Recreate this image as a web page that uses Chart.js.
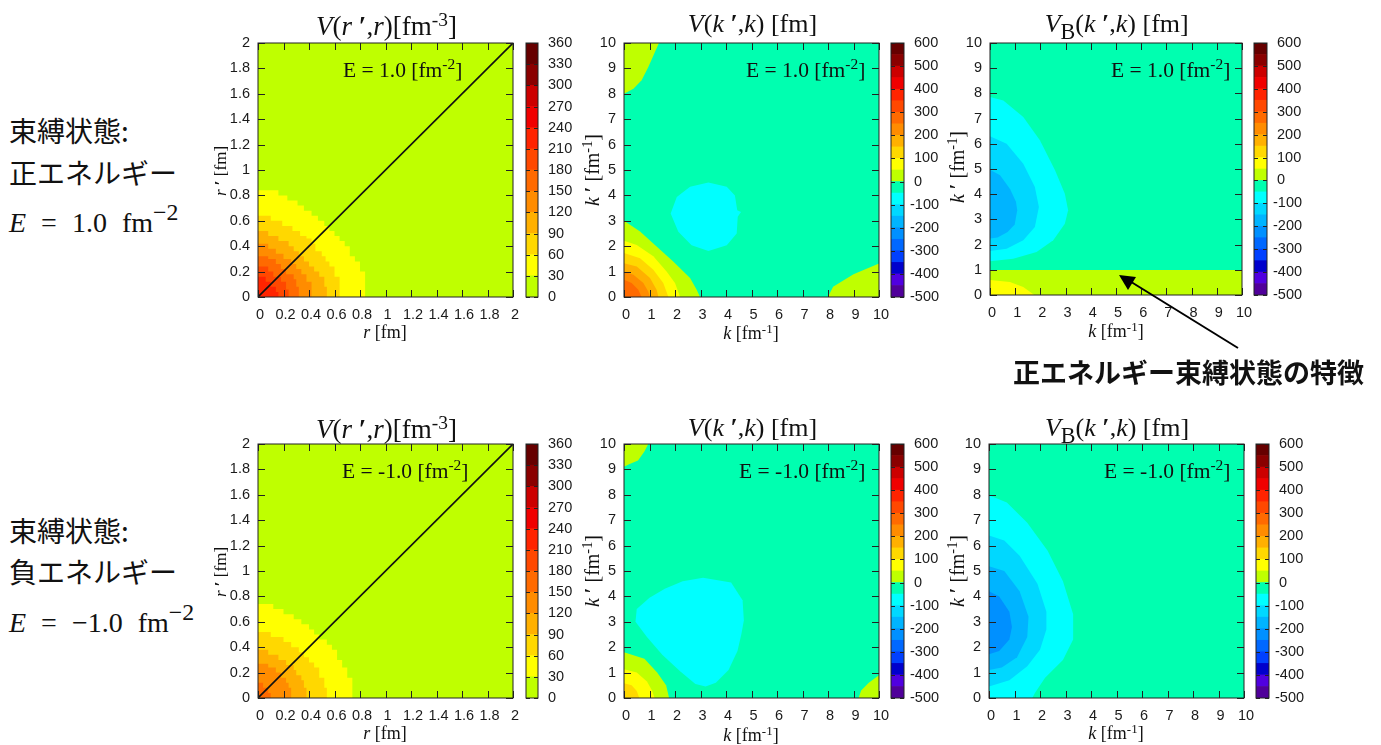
<!DOCTYPE html>
<html>
<head>
<meta charset="utf-8">
<title>V(k',k)</title>
<script src="https://cdn.jsdelivr.net/npm/chart.js@4"></script>
<style>
  html, body { margin: 0; padding: 0; background: #fff; }
  body { width: 1381px; height: 745px; position: relative; overflow: hidden; }
  canvas { position: absolute; }
  .t { position: absolute; white-space: nowrap; color: #111; font-family: "Liberation Serif", serif; line-height: 1; }
  .t sup { font-size: .72em; line-height: 0; vertical-align: baseline; position: relative; top: -.48em; }
  .t sub { font-size: .85em; line-height: 0; vertical-align: baseline; position: relative; top: .3em; }
  .jp { font-family: "Noto Sans CJK JP", sans-serif; color: #111; }
  .en { word-spacing: 8px; }
  .en sup { font-size: .85em; }
  svg { position: absolute; left: 0; top: 0; z-index: 5; }
</style>
</head>
<body>
<svg width="1381" height="745">
  <line x1="1238" y1="348" x2="1128" y2="280" stroke="#000" stroke-width="2"></line>
  <polygon points="1119,275 1136,277 1128,290" fill="#000"></polygon>
</svg>
<script>
// tick labels
const rTicks = [0, 0.2, 0.4, 0.6, 0.8, 1, 1.2, 1.4, 1.6, 1.8, 2];
const kTicks = [0, 1, 2, 3, 4, 5, 6, 7, 8, 9, 10];
const rBarTicks = [0, 30, 60, 90, 120, 150, 180, 210, 240, 270, 300, 330, 360];
const kBarTicks = [-500, -400, -300, -200, -100, 0, 100, 200, 300, 400, 500, 600];

// colour bands, lower edge of each one
const rBandLows = [0, 30, 60, 90, 120, 150, 180, 210, 240, 270, 300, 330];
const rBandColors = ["#bfff00", "#ffff00", "#ffd800", "#ffb000", "#ff8c00", "#ff6a00", "#ff4800", "#ff2400", "#f00000", "#cc0000", "#8a0000", "#660000"];
const kBandLows = [-500, -450, -400, -350, -300, -250, -200, -150, -100, -50, 0, 50, 100, 150, 200, 250, 300, 350, 400, 450, 500, 550];
const kBandColors = ["#50009a", "#5000e0", "#0000cc", "#0040ff", "#0068ff", "#0090ff", "#00b4ff", "#00d8ff", "#00ffff", "#00ffb0",
  "#bfff00", "#ffff00", "#ffd800", "#ffb000", "#ff8c00", "#ff6a00", "#ff4800", "#ff2400", "#f00000", "#cc0000", "#8a0000", "#660000"];

// contours, [x, y] in axis units
const rFull = [[0, 0], [2, 0], [2, 2], [0, 2]];
const kFull = [[0, 0], [10, 0], [10, 10], [0, 10]];
const diagonal = [[0, 0], [2, 2]];

// V(r',r), E = 1.0
const a30 = [[0, .84], [.16, .80], [.23, .76], [.31, .72], [.36, .68], [.42, .64], [.47, .60], [.52, .56], [.56, .52], [.60, .48], [.64, .44], [.68, .40], [.72, .32], [.76, .28], [.80, .20], [.84, 0], [0, 0]];
const a60 = [[0, .64], [.10, .60], [.19, .56], [.27, .52], [.33, .48], [.38, .46], [.42, .42], [.45, .36], [.50, .32], [.53, .28], [.56, .24], [.60, .16], [.64, 0], [0, 0]];
const a90 = [[0, .52], [.08, .48], [.16, .44], [.24, .40], [.28, .36], [.32, .32], [.36, .28], [.40, .24], [.44, .20], [.48, .16], [.52, .08], [.54, 0], [0, 0]];
const a120 = [[0, .42], [.08, .38], [.14, .34], [.20, .30], [.26, .26], [.30, .22], [.34, .18], [.38, .12], [.42, 0], [0, 0]];
const a150 = [[0, .32], [.08, .30], [.14, .26], [.18, .22], [.22, .18], [.28, .14], [.30, .08], [.32, 0], [0, 0]];
const a180 = [[0, .24], [.08, .20], [.12, .16], [.18, .12], [.22, .06], [.24, 0], [0, 0]];
const a210 = [[0, .16], [.06, .12], [.10, .08], [.14, .04], [.16, 0], [0, 0]];

// V(k',k), E = 1.0
const b0Low = [[0, 3.0], [.63, 2.58], [1.28, 1.99], [1.93, 1.4], [2.59, .75], [2.85, .29], [2.98, 0], [0, 0]];
const b0Top = [[0, 8.0], [.37, 8.2], [.69, 8.53], [.95, 9.05], [1.37, 10], [0, 10]];
const b0Right = [[8, 0], [8.2, .4], [9, .9], [10, 1.32], [10, 0]];
const b50 = [[0, 2.21], [.5, 2.05], [1.15, 1.6], [1.67, 1.0], [2, .55], [2.2, 0], [0, 0]];
const b100 = [[0, 1.73], [.63, 1.53], [1.15, 1.07], [1.54, .55], [1.74, 0], [0, 0]];
const b150 = [[0, 1.33], [.5, 1.2], [1.02, .75], [1.28, .29], [1.35, 0], [0, 0]];
const b200 = [[0, 1.0], [.37, .88], [.76, .55], [.95, .22], [1.02, 0], [0, 0]];
const b250 = [[0, .68], [.3, .55], [.56, .29], [.69, 0], [0, 0]];
const bBlob = [[3.31, 4.51], [4.03, 4.34], [4.35, 4.0], [4.44, 3.42], [4.59, 3.35], [4.46, 3.16], [4.42, 2.5], [4.03, 2.04], [3.31, 1.81], [2.65, 2.04], [2.13, 2.57], [1.83, 3.29], [2.07, 3.94], [2.59, 4.34]];

// VB(k',k), E = 1.0
const cBand = [[0, 0], [10, 0], [10, .99], [0, .99]];
const cYellow = [[0, .6], [.79, .52], [1.32, .32], [1.76, 0], [0, 0]];
const cM100 = [[0, 7.86], [.53, 7.72], [1.32, 7.06], [1.98, 6.14], [2.58, 4.95], [2.97, 4.02], [3.1, 3.36], [2.97, 2.83], [2.51, 2.17], [1.85, 1.71], [.92, 1.44], [0, 1.34]];
const cM150 = [[0, 6.3], [.66, 6.0], [1.32, 5.21], [1.78, 4.29], [1.94, 3.49], [1.78, 2.7], [1.32, 2.17], [.66, 1.84], [0, 1.75]];
const cM200 = [[0, 4.97], [.4, 4.75], [.8, 4.2], [1.03, 3.7], [1.08, 3.36], [.98, 2.8], [.7, 2.5], [.3, 2.28], [0, 2.24]];

// V(r',r), E = -1.0
const d30 = [[0, .74], [.12, .70], [.20, .66], [.28, .62], [.34, .58], [.40, .54], [.44, .50], [.48, .46], [.54, .42], [.58, .38], [.62, .30], [.66, .24], [.70, .16], [.74, 0], [0, 0]];
const d60 = [[0, .52], [.10, .48], [.20, .44], [.26, .40], [.32, .36], [.36, .32], [.40, .28], [.44, .24], [.48, .16], [.52, .08], [.54, 0], [0, 0]];
const d90 = [[0, .38], [.08, .34], [.16, .30], [.22, .26], [.28, .22], [.30, .18], [.34, .14], [.36, .08], [.38, 0], [0, 0]];
const d120 = [[0, .27], [.08, .24], [.14, .20], [.18, .16], [.22, .12], [.24, .08], [.26, 0], [0, 0]];
const d150 = [[0, .12], [.04, .08], [.08, .04], [.10, 0], [0, 0]];

// V(k',k), E = -1.0
const e0Low = [[0, 1.8], [.8, 1.55], [1.3, 1.0], [1.65, .5], [1.77, 0], [0, 0]];
const e0Top = [[0, 9.1], [.2, 9.2], [.55, 9.35], [.8, 9.7], [.95, 10], [0, 10]];
const e0Right = [[9.2, 0], [9.3, .3], [9.6, .6], [10, .9], [10, 0]];
const e50 = [[0, 1.13], [.5, 1.0], [.9, .65], [1.1, .3], [1.2, 0], [0, 0]];
const e100 = [[0, .58], [.3, .5], [.5, .28], [.6, 0], [0, 0]];
const eBlob = [[3.1, 4.73], [4.2, 4.55], [4.65, 3.85], [4.7, 3.05], [4.6, 2.5], [4.45, 1.85], [4.1, 1.1], [3.6, .6], [3.2, .45], [2.8, .55], [2.2, 1.05], [1.5, 1.7], [.9, 2.4], [.45, 3.0], [.5, 3.5], [1.0, 3.95], [1.6, 4.3], [2.3, 4.6]];

// VB(k',k), E = -1.0
const fM100 = [[0, 7.98], [.7, 7.7], [1.5, 6.9], [2.3, 5.8], [2.9, 4.6], [3.3, 3.3], [3.3, 2.3], [2.9, 1.5], [2.2, .8], [1.8, .2], [1.7, 0], [0, 0]];
const fM150 = [[0, 6.4], [.6, 6.2], [1.2, 5.6], [1.9, 4.5], [2.25, 3.4], [2.25, 2.7], [2.0, 1.9], [1.5, 1.25], [.8, .7], [0, .45]];
const fM200 = [[0, 5.19], [.6, 5.0], [1.2, 4.2], [1.55, 3.2], [1.5, 2.4], [1.1, 1.6], [.5, 1.2], [0, 1.1]];
const fM250 = [[0, 4.2], [.4, 4.0], [.8, 3.4], [.9, 2.8], [.8, 2.3], [.4, 1.85], [0, 1.72]];

const tickFont = { family: "Liberation Sans", size: 14.5 };
const inkColor = "#1a1a1a";

// ticks point inwards on all sides, gnuplot style
const frameTicks = {
  id: "frameTicks",
  afterDatasetsDraw(chart, args, opts) {
    const { ctx, chartArea: a, scales } = chart;
    const snap = v => Math.round(v) + 0.5;
    ctx.save();
    ctx.strokeStyle = "#222";
    ctx.lineWidth = 1;
    ctx.beginPath();
    if (opts.xLen) {
      scales.x.ticks.forEach(t => {
        const px = snap(scales.x.getPixelForValue(t.value));
        ctx.moveTo(px, a.bottom); ctx.lineTo(px, a.bottom - opts.xLen);
        ctx.moveTo(px, a.top); ctx.lineTo(px, a.top + opts.xLen);
      });
    }
    scales.y.ticks.forEach(t => {
      const py = snap(scales.y.getPixelForValue(t.value));
      ctx.moveTo(a.left, py); ctx.lineTo(a.left + opts.yLen, py);
      ctx.moveTo(a.right, py); ctx.lineTo(a.right - opts.yLen, py);
    });
    ctx.stroke();
    ctx.strokeRect(a.left, a.top, a.right - a.left, a.bottom - a.top);
    ctx.restore();
  }
};

function place(box) {
  const c = document.createElement("canvas");
  c.width = box.w; c.height = box.h;
  c.style.left = box.x + "px";
  c.style.top = box.y + "px";
  document.body.appendChild(c);
  return c;
}

function axis(lo, hi, values, extra) {
  return Object.assign({
    type: "linear", min: lo, max: hi,
    afterBuildTicks: s => { s.ticks = values.map(v => ({ value: v })); },
    grid: { display: false, drawTicks: false },
    border: { display: false }
  }, extra);
}

// one contour panel: regions are [lower band edge, vertices, stepped]
function panel(l, t, r, b, hi, xValues, yValues, lows, colors, regions, line) {
  const cv = place({ x: l - 50, y: t - 24, w: r - l + 74, h: b - t + 54 });
  const n = regions.length;
  const datasets = regions.map((reg, i) => ({
    data: reg[1].map(p => ({ x: p[0], y: p[1] })),
    showLine: true,
    fill: "shape",
    stepped: !!reg[2],
    tension: 0,
    pointRadius: 0,
    borderWidth: 0,
    backgroundColor: colors[lows.indexOf(reg[0])],
    order: n - i + 1
  }));
  if (line) {
    datasets.push({
      data: line.map(p => ({ x: p[0], y: p[1] })),
      showLine: true, fill: false, pointRadius: 0,
      borderColor: "#111", borderWidth: 1.6, order: 0
    });
  }
  const label = v => String(v);
  new Chart(cv, {
    type: "scatter",
    data: { datasets },
    plugins: [frameTicks],
    options: {
      responsive: false,
      animation: false,
      layout: { padding: { top: 24, right: 24 } },
      plugins: { legend: { display: false }, tooltip: { enabled: false }, frameTicks: { xLen: 7, yLen: 7 } },
      scales: {
        x: axis(0, hi, xValues, {
          ticks: { font: tickFont, color: inkColor, padding: 9, labelOffset: 2, maxRotation: 0, autoSkip: false, callback: label },
          afterFit: s => { s.height = 30; }
        }),
        y: axis(0, hi, yValues, {
          ticks: { font: tickFont, color: inkColor, padding: 8, autoSkip: false, callback: label },
          afterFit: s => { s.width = 50; }
        })
      }
    }
  });
}

function colorBar(l, r, t, b, lows, colors, step, values, pad) {
  const cv = place({ x: l - 5, y: t - 24, w: r - l + 5 + 50, h: b - t + 44 });
  new Chart(cv, {
    type: "bar",
    data: {
      labels: [""],
      datasets: lows.map((lo, i) => ({
        data: [[lo, lo + step]],
        backgroundColor: colors[i],
        barPercentage: 1,
        categoryPercentage: 1
      }))
    },
    plugins: [frameTicks],
    options: {
      responsive: false,
      animation: false,
      layout: { padding: { top: 24, bottom: 20, left: 5 } },
      plugins: { legend: { display: false }, tooltip: { enabled: false }, frameTicks: { yLen: 4 } },
      scales: {
        x: { stacked: true, display: false },
        y: axis(lows[0], lows[lows.length - 1] + step, values, {
          position: "right",
          ticks: {
            font: tickFont, color: inkColor, padding: pad, autoSkip: false,
            // gnuplot leaves room for the sign, so the minus hangs out to the left
            callback: v => (values[0] < 0 && v >= 0 ? " " : "") + v
          },
          afterFit: s => { s.width = 50; }
        })
      }
    }
  });
}

panel(258, 43, 513, 297, 2, rTicks, rTicks, rBandLows, rBandColors,
  [[0, rFull], [30, a30, true], [60, a60, true], [90, a90, true], [120, a120, true], [150, a150, true], [180, a180, true], [210, a210, true]], diagonal);
panel(624, 43, 879, 297, 10, kTicks, kTicks, kBandLows, kBandColors,
  [[-50, kFull], [0, b0Low], [0, b0Top], [0, b0Right], [-100, bBlob], [50, b50], [100, b100], [150, b150], [200, b200], [250, b250]]);
panel(990, 43, 1242, 295, 10, kTicks, kTicks, kBandLows, kBandColors,
  [[-50, kFull], [0, cBand], [50, cYellow], [-100, cM100], [-150, cM150], [-200, cM200]]);
panel(258, 444, 513, 698, 2, rTicks, rTicks, rBandLows, rBandColors,
  [[0, rFull], [30, d30, true], [60, d60, true], [90, d90, true], [120, d120, true], [150, d150, true]], diagonal);
panel(624, 444, 879, 698, 10, kTicks, kTicks, kBandLows, kBandColors,
  [[-50, kFull], [0, e0Low], [0, e0Top], [0, e0Right], [-100, eBlob], [50, e50], [100, e100]]);
panel(989, 444, 1244, 698, 10, kTicks, kTicks, kBandLows, kBandColors,
  [[-50, kFull], [-100, fM100], [-150, fM150], [-200, fM200], [-250, fM250]]);

colorBar(526, 538, 43, 297, rBandLows, rBandColors, 30, rBarTicks, 10);
colorBar(891, 904, 43, 297, kBandLows, kBandColors, 50, kBarTicks, 6);
colorBar(1254, 1267, 43, 295, kBandLows, kBandColors, 50, kBarTicks, 6);
colorBar(526, 538, 444, 698, rBandLows, rBandColors, 30, rBarTicks, 10);
colorBar(891, 904, 444, 698, kBandLows, kBandColors, 50, kBarTicks, 6);
colorBar(1256, 1269, 444, 698, kBandLows, kBandColors, 50, kBarTicks, 6);

// text, x is the centre (or left edge with left=true), y is the baseline
function text(html, x, y, size, opt) {
  opt = opt || {};
  const d = document.createElement("div");
  d.className = "t" + (opt.jp ? " jp" : "") + (opt.en ? " en" : "");
  d.innerHTML = html;
  d.style.fontSize = size + "px";
  if (opt.weight) d.style.fontWeight = opt.weight;
  d.style.left = x + "px";
  d.style.top = (opt.rot ? y : y - 0.3375 * size) + "px";
  d.style.transform = opt.rot ? "translate(-50%,-50%) rotate(-90deg)" : (opt.left ? "translateY(-50%)" : "translate(-50%,-50%)");
  document.body.appendChild(d);
}

const titleR = "<i>V</i>(<i>r</i> <b>′</b>,<i>r</i>)[fm<sup>-3</sup>]";
const titleK = "<i>V</i>(<i>k</i> <b>′</b>,<i>k</i>) [fm]";
const titleB = "<i>V</i><sub>B</sub>(<i>k</i> <b>′</b>,<i>k</i>) [fm]";
text(titleR, 386.5, 35, 27); text(titleK, 752.5, 33, 26); text(titleB, 1116.7, 33, 26);
text(titleR, 386.5, 438, 27); text(titleK, 752.5, 437, 26); text(titleB, 1117, 437, 26);

const ePlus = "E = 1.0 [fm<sup>-2</sup>]";
const eMinus = "E = -1.0 [fm<sup>-2</sup>]";
text(ePlus, 343, 78, 21.5, { left: true }); text(ePlus, 746, 78, 21.5, { left: true }); text(ePlus, 1111, 78, 21.5, { left: true });
text(eMinus, 342, 479, 21.5, { left: true }); text(eMinus, 739, 479, 21.5, { left: true }); text(eMinus, 1104, 479, 21.5, { left: true });

const xR = "<i>r</i> [fm]", xK = "<i>k</i> [fm<sup>-1</sup>]";
const yR = "<i>r</i> <b>′</b> [fm]", yK = "<i>k</i> <b>′</b> [fm<sup>-1</sup>]";
text(xR, 385, 338, 18); text(xK, 751, 339, 18); text(xK, 1116, 337, 18);
text(xR, 385, 739, 18); text(xK, 751, 741, 18); text(xK, 1116, 739, 18);
text(yR, 220, 171, 17, { rot: true }); text(yK, 592, 170, 20, { rot: true }); text(yK, 957, 167, 20, { rot: true });
text(yR, 220, 572, 17, { rot: true }); text(yK, 592, 571, 20, { rot: true }); text(yK, 957, 571, 20, { rot: true });

text("束縛状態:", 9, 139, 28, { jp: true, left: true });
text("正エネルギー", 9, 181, 28, { jp: true, left: true });
text("<i>E</i> = 1.0 fm<sup>−2</sup>", 9, 232, 28, { left: true, en: true });
text("束縛状態:", 9, 539, 28, { jp: true, left: true });
text("負エネルギー", 9, 580, 28, { jp: true, left: true });
text("<i>E</i> = −1.0 fm<sup>−2</sup>", 9, 632, 28, { left: true, en: true });
text("正エネルギー束縛状態の特徴", 1013, 380, 27, { jp: true, left: true, weight: 700 });
</script>
</body>
</html>
